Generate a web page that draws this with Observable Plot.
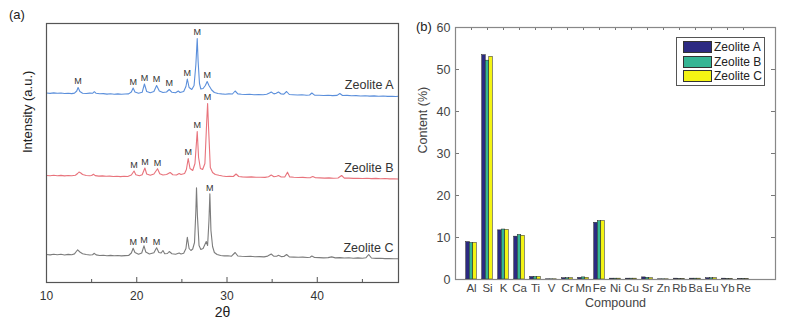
<!DOCTYPE html>
<html><head><meta charset="utf-8">
<script src="https://cdn.jsdelivr.net/npm/d3@7"></script>
<script src="https://cdn.jsdelivr.net/npm/@observablehq/plot@0.6"></script>
<style>
body{margin:0;background:#fff;font-family:"Liberation Sans",Arial,sans-serif;}
#wrap{position:relative;width:810px;height:335px;overflow:hidden;}
.pa,.pb{position:absolute;top:0;}
.pa{left:0}.pb{left:400px}
.lab{position:absolute;font-size:13px;color:#222;}
#legend{position:absolute;left:676px;top:37px;width:87px;height:47px;border:1px solid #555;background:#fff;font-size:12px;color:#222;white-space:nowrap;}
#legend .row{position:absolute;left:6px;height:12px;display:flex;align-items:center;white-space:nowrap;}
#legend .sw{width:27px;height:10px;border:1px solid #333;margin-right:2px;flex:none;}
</style></head>
<body><div id="wrap"></div>
<script>
// ---------- Panel (a): XRD patterns (2θ, intensity a.u.) ----------
const zeoliteA = [[10.0,6.5],[10.4,6.1],[10.8,6.6],[11.2,6.2],[11.6,6.5],[12.0,6.0],[12.4,6.3],[12.8,5.9],[13.1,6.4],[13.35,8.5],[13.5,12],[13.7,8],[14.0,6.3],[14.4,6.0],[14.8,6.4],[15.1,6.2],[15.3,7.8],[15.5,6.2],[15.9,5.7],[16.3,5.9],[16.7,5.4],[17.1,5.7],[17.5,5.3],[17.9,5.6],[18.3,5.2],[18.7,5.5],[19.1,5.6],[19.4,7.5],[19.6,11.5],[19.8,7.5],[20.2,6.3],[20.6,7.2],[20.85,15.5],[21.1,8],[21.5,6.8],[21.9,8],[22.2,14],[22.5,8.5],[22.9,7],[23.3,7.5],[23.6,10],[23.9,7.2],[24.3,6.8],[24.6,8.5],[24.8,7],[25.2,8],[25.45,13],[25.6,20.5],[25.8,12],[26.1,10],[26.35,14],[26.55,35],[26.7,61],[26.8,38],[26.95,16],[27.1,10.5],[27.35,11],[27.6,14],[27.8,18],[28.0,14],[28.3,9.5],[28.6,7],[29.0,6],[29.4,5.6],[29.8,5.3],[30.2,5.6],[30.6,5.5],[30.9,8.5],[31.2,5.6],[31.6,5.2],[32.0,5.0],[32.5,5.2],[33.0,4.8],[33.5,4.9],[34.0,4.7],[34.4,5.2],[34.7,6.5],[34.9,7.5],[35.2,5.6],[35.45,6.3],[35.7,7.5],[36.0,5.5],[36.3,5.4],[36.6,8],[36.9,5.0],[37.3,4.8],[37.8,4.5],[38.3,4.7],[38.8,4.3],[39.15,4.5],[39.4,6.5],[39.7,4.4],[40.2,4.2],[40.7,4.0],[41.2,4.3],[41.7,3.9],[42.2,4.1],[42.5,6],[42.8,4.0],[43.3,4.1],[43.8,3.7],[44.3,3.9],[44.8,3.5],[45.3,3.8],[45.8,3.4],[46.3,3.6],[46.8,3.2],[47.3,3.5],[47.8,3.1],[48.3,3.3],[48.7,3.0],[49.0,3.2]];
const zeoliteB = [[10.0,6.0],[10.4,5.7],[10.8,6.2],[11.2,5.8],[11.6,6.1],[12.0,5.6],[12.4,6.0],[12.8,5.7],[13.2,6.2],[13.45,8],[13.6,9.5],[13.8,8.5],[14.0,7],[14.4,6.0],[14.8,5.7],[15.0,6.0],[15.2,7.2],[15.4,5.9],[15.8,5.4],[16.2,5.6],[16.6,5.2],[17.0,5.4],[17.4,5.0],[17.8,5.3],[18.2,4.9],[18.6,5.2],[19.0,5.0],[19.4,6.5],[19.7,10.5],[19.9,6.8],[20.3,5.8],[20.6,6.8],[20.9,13.5],[21.1,7.5],[21.5,6.2],[21.9,7.5],[22.3,12.8],[22.55,7.8],[22.9,6.5],[23.3,7],[23.7,9],[24.0,6.8],[24.4,6.5],[24.7,8],[24.9,7],[25.3,8],[25.5,12],[25.7,23],[25.9,13],[26.2,11],[26.45,18],[26.7,50],[26.85,24],[27.05,13],[27.3,12],[27.55,18],[27.75,60],[27.85,78],[27.95,55],[28.15,14],[28.4,9],[28.7,7],[29.1,6.2],[29.5,5.5],[29.9,5.0],[30.3,5.3],[30.7,5.0],[31.0,7.5],[31.3,5.0],[31.7,4.6],[32.2,4.4],[32.7,4.6],[33.2,4.2],[33.7,4.3],[34.2,4.1],[34.6,4.8],[34.9,6.5],[35.2,4.8],[35.5,5.2],[35.7,6],[36.0,4.5],[36.4,4.6],[36.7,9.3],[36.95,4.6],[37.4,4.2],[37.9,4.0],[38.4,4.1],[38.9,3.7],[39.25,3.9],[39.5,5],[39.8,3.7],[40.3,3.6],[40.8,3.4],[41.3,3.6],[41.8,3.3],[42.3,3.5],[42.7,6],[43.0,3.4],[43.5,3.4],[44.0,3.1],[44.5,3.3],[45.0,3.0],[45.5,3.2],[46.0,2.9],[46.5,3.1],[47.0,2.7],[47.5,3.0],[48.0,2.6],[48.5,2.8],[49.0,2.5]];
const zeoliteC = [[10.0,6.0],[10.4,5.6],[10.8,6.3],[11.2,5.7],[11.6,6.2],[12.0,5.5],[12.4,6.1],[12.8,5.8],[13.1,6.6],[13.3,9],[13.45,10.7],[13.7,8.5],[14.0,6.8],[14.4,6.0],[14.8,5.5],[15.1,5.8],[15.3,7.2],[15.5,5.6],[15.9,5.0],[16.3,5.3],[16.7,4.8],[17.1,5.1],[17.5,4.7],[17.9,5.0],[18.3,4.6],[18.7,4.9],[19.1,5.0],[19.4,7.5],[19.6,12.3],[19.8,8],[20.2,6.2],[20.55,7.5],[20.8,14.7],[21.0,8.5],[21.4,6.5],[21.9,7.8],[22.2,12.7],[22.45,8],[22.7,7.5],[22.9,10],[23.1,6.8],[23.4,7],[23.6,9],[23.9,6.8],[24.3,6.2],[24.7,7.5],[24.9,6.5],[25.2,7.2],[25.45,12],[25.6,23.3],[25.8,12],[26.0,10],[26.2,11.5],[26.4,18],[26.55,50],[26.62,72.7],[26.72,45],[26.9,15],[27.1,11],[27.35,12],[27.55,16],[27.7,19],[27.85,15],[28.0,40],[28.1,66.7],[28.22,30],[28.4,14],[28.6,8],[28.9,6.0],[29.3,5.0],[29.7,4.6],[30.1,4.8],[30.5,4.3],[30.9,8],[31.2,4.5],[31.6,4.2],[32.1,4.0],[32.6,4.2],[33.1,3.8],[33.6,3.9],[34.1,3.6],[34.5,4.4],[34.9,6.5],[35.2,4.2],[35.5,4.3],[35.7,5.2],[36.0,3.9],[36.3,4.0],[36.6,6],[36.9,3.6],[37.4,3.4],[37.9,3.2],[38.4,3.4],[38.9,3.0],[39.2,3.2],[39.4,4.5],[39.7,3.0],[40.2,2.9],[40.7,2.6],[41.2,2.9],[41.6,3.6],[42.0,2.6],[42.5,2.9],[43.0,2.5],[43.5,2.7],[44.0,2.3],[44.5,2.6],[45.0,2.3],[45.4,2.8],[45.7,6],[46.0,2.5],[46.5,2.1],[47.0,2.3],[47.5,1.9],[48.0,2.0],[48.5,1.7],[49.0,1.8]];
const traceNames = ["Zeolite A","Zeolite B","Zeolite C"];
const traceOffsets = [183, 101, 22];
const peaksA = [13.5,19.6,20.85,22.2,23.6,25.6,26.7,27.8];
const peaksB = [19.7,20.9,22.3,25.7,26.7,27.85];
const peaksC = [19.6,20.8,22.2,28.1];
const xTicksA = [10,20,30,40];
const xMinorA = [15,25,35,45];

// ---------- Panel (b): elemental content ----------
const elements = ["Al","Si","K","Ca","Ti","V","Cr","Mn","Fe","Ni","Cu","Sr","Zn","Rb","Ba","Eu","Yb","Re"];
const contentA = [8.9,53.4,11.7,10.2,0.6,0.05,0.3,0.4,13.5,0.2,0.2,0.5,0.05,0.2,0.2,0.3,0.2,0.1];
const contentB = [8.7,52.1,11.9,10.6,0.6,0.05,0.3,0.5,13.9,0.2,0.2,0.4,0.05,0.1,0.2,0.3,0.1,0.1];
const contentC = [8.7,53.0,11.8,10.4,0.6,0.05,0.3,0.4,13.9,0.2,0.2,0.3,0.05,0.1,0.2,0.3,0.1,0.1];
const yTicksB = [0,10,20,30,40,50,60];
const seriesColors = ["#2c2a82","#35b594","#f4f414"];

const FONT = "Liberation Sans, Arial, sans-serif";
const traceColors = ["#5b8fdb","#e8737c","#7c7c7c"];
const traces = [zeoliteA, zeoliteB, zeoliteC];
const peakLists = [peaksA, peaksB, peaksC];

const lineData = traces.flatMap((tr, k) => tr.map(([t, v]) => ({t, y: v + traceOffsets[k], s: traceNames[k]})));
const mData = peakLists.flatMap((pk, k) => pk.map(p => {
  const near = traces[k].filter(([t]) => Math.abs(t - p) <= 0.12);
  const top = d3.max(near, d => d[1]);
  return {t: p, y: top + traceOffsets[k]};
}));
const nameData = traces.map((tr, k) => ({name: traceNames[k], y: tr[tr.length - 1][1] + traceOffsets[k]}));

const pa = Plot.plot({
  width: 400, height: 335,
  marginLeft: 46, marginRight: 2, marginTop: 23, marginBottom: 53,
  style: {fontFamily: FONT, fontSize: "12px", color: "#333", background: "transparent"},
  x: {domain: [10, 49]},
  y: {domain: [0, 259], axis: null},
  color: {domain: traceNames, range: traceColors},
  marks: [
    Plot.line(lineData, {x: "t", y: "y", z: "s", stroke: "s", strokeWidth: 1.1}),
    Plot.text(mData, {x: "t", y: "y", text: () => "M", dy: -6, fontSize: 9, fill: "#333"}),
    Plot.text(nameData, {x: () => 49, y: "y", text: "name", textAnchor: "end", dx: -5, dy: -11, fontSize: 12.5, fill: "#333"}),
    Plot.tickX(xTicksA, {x: d => d, insetTop: 254, stroke: "#555"}),
    Plot.tickX(xMinorA, {x: d => d, insetTop: 256, stroke: "#555"}),
    Plot.frame({stroke: "#555", strokeWidth: 1.2}),
    Plot.axisX({ticks: xTicksA, tickSize: 0, tickPadding: 9, label: null, fontSize: 12}),
    Plot.text(["2θ"], {frameAnchor: "bottom", dy: 34, fontSize: 14, fill: "#222"}),
    Plot.text(["Intensity (a.u.)"], {frameAnchor: "left", dx: -19, rotate: -90, fontSize: 13, fill: "#222"})
  ]
});
pa.classList.add("pa");

const barData = elements.flatMap((el, i) => [contentA, contentB, contentC].map((arr, k) => ({el, i, k, v: arr[i], s: traceNames[k]})));
const W = 0.22;
const pb = Plot.plot({
  width: 410, height: 335,
  marginLeft: 55, marginRight: 35, marginTop: 27, marginBottom: 56,
  style: {fontFamily: FONT, fontSize: "12px", color: "#444", background: "transparent"},
  x: {domain: [0, 20], axis: null},
  y: {domain: [0, 60]},
  color: {domain: traceNames, range: seriesColors},
  marks: [
    Plot.rectY(barData, {x1: d => d.i + 1 + (d.k - 1) * W - W / 2, x2: d => d.i + 1 + (d.k - 1) * W + W / 2, y1: 0, y2: "v", fill: "s", stroke: "#222", strokeWidth: 0.5}),
    Plot.tickY(yTicksB, {y: d => d, insetRight: 316, stroke: "#777"}),
    Plot.tickY(yTicksB, {y: d => d, insetLeft: 316, stroke: "#777"}),
    Plot.tickX(elements, {x: (d, i) => i + 1, insetBottom: 249, stroke: "#777"}),
    Plot.frame({stroke: "#888", strokeWidth: 1.2}),
    Plot.axisY({ticks: yTicksB, tickSize: 0, tickPadding: 5, label: null, fontSize: 12.5}),
    Plot.text(elements, {x: (d, i) => i + 1, frameAnchor: "bottom", dy: 12, fontSize: 11.5, fill: "#444"}),
    Plot.text(["Compound"], {frameAnchor: "bottom", dy: 27, fontSize: 12.5, fill: "#444"}),
    Plot.text(["Content (%)"], {frameAnchor: "left", dx: -33, rotate: -90, fontSize: 12.5, fill: "#444"})
  ]
});
pb.classList.add("pb");

const wrap = document.getElementById("wrap");
wrap.appendChild(pa);
wrap.appendChild(pb);

const la = document.createElement("div"); la.className = "lab"; la.style.left = "9px"; la.style.top = "7px"; la.textContent = "(a)"; wrap.appendChild(la);
const lb = document.createElement("div"); lb.className = "lab"; lb.style.left = "416px"; lb.style.top = "19px"; lb.textContent = "(b)"; wrap.appendChild(lb);

const lg = document.createElement("div"); lg.id = "legend";
traceNames.forEach((n, k) => {
  const r = document.createElement("div"); r.className = "row"; r.style.top = (3 + k * 14.5) + "px";
  const sw = document.createElement("span"); sw.className = "sw"; sw.style.background = seriesColors[k];
  const tx = document.createElement("span"); tx.textContent = n;
  r.appendChild(sw); r.appendChild(tx); lg.appendChild(r);
});
wrap.appendChild(lg);
</script>
</body></html>
